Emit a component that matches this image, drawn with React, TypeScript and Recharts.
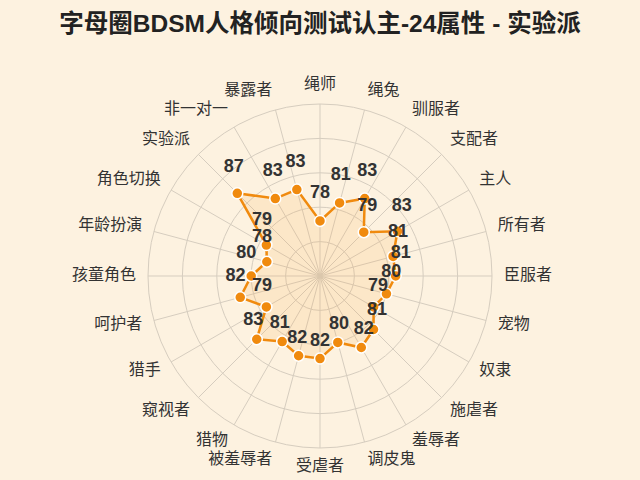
import { RadarChart, Radar, PolarGrid, PolarAngleAxis, PolarRadiusAxis } from 'recharts';

const attributes = [
  '绳师', '绳兔', '驯服者', '支配者', '主人', '所有者', '臣服者', '宠物',
  '奴隶', '施虐者', '羞辱者', '调皮鬼', '受虐者', '被羞辱者', '猎物', '窥视者',
  '猎手', '呵护者', '孩童角色', '年龄扮演', '角色切换', '实验派', '非一对一', '暴露者',
];
const scores = [
  78, 81, 83, 79, 83, 81, 81, 80,
  79, 81, 82, 80, 82, 82, 81, 83,
  79, 82, 80, 78, 79, 87, 83, 83,
];
const radiusDomain = [70, 95];
const title = '字母圈BDSM人格倾向测试认主-24属性 - 实验派';

const CX = 320;
const CY = 276;
const OUTER = 172;
const FONT = '"Liberation Sans", "Noto Sans CJK SC", sans-serif';

const data = attributes.map((name, i) => ({ name, score: scores[i] }));

// axis label: placed just outside the outer ring, anchored away from centre
const AngleTick = (props: any) => {
  const { x, y, payload } = props;
  const dx = x - CX;
  const dy = y - CY;
  const len = Math.sqrt(dx * dx + dy * dy) || 1;
  const ux = dx / len;
  const uy = dy / len;
  const r = OUTER + 12;
  const tx = CX + ux * r;
  const ty = CY + uy * r + uy * 7 - 2;
  const anchor = Math.abs(ux) < 0.05 ? 'middle' : ux > 0 ? 'start' : 'end';
  return (
    <text
      x={tx}
      y={ty}
      textAnchor={anchor}
      dominantBaseline="central"
      fontSize={16}
      fontFamily={FONT}
      fill="#333"
    >
      {payload.value}
    </text>
  );
};

// value label: above the dot, nudged a little outward along the spoke
const ValueLabel = (props: any) => {
  const { x, y, value } = props;
  const dx = x - CX;
  const dy = y - CY;
  const len = Math.sqrt(dx * dx + dy * dy) || 1;
  return (
    <text
      x={x + (dx / len) * 5}
      y={y + (dy / len) * 5 - 24}
      textAnchor="middle"
      dominantBaseline="central"
      fontSize={18}
      fontWeight="bold"
      fontFamily={FONT}
      fill="#333"
    >
      {value}
    </text>
  );
};

export default function App() {
  return (
    <div
      style={{
        position: 'absolute',
        left: 0,
        top: 0,
        width: 640,
        height: 480,
        background: '#fdf2e0',
        overflow: 'hidden',
      }}
    >
      <div
        style={{
          position: 'absolute',
          top: 4,
          left: 0,
          width: 640,
          textAlign: 'center',
          fontFamily: FONT,
          fontWeight: 'bold',
          fontSize: 24.5,
          color: '#222',
        }}
      >
        {title}
      </div>
      <RadarChart
        width={640}
        height={480}
        data={data}
        cx={CX}
        cy={CY}
        outerRadius={OUTER}
        startAngle={90}
        endAngle={-270}
      >
        <PolarGrid gridType="circle" stroke="#d6cdbf" strokeWidth={1} />
        <PolarRadiusAxis
          domain={radiusDomain}
          tickCount={6}
          tick={false}
          axisLine={false}
        />
        <PolarAngleAxis dataKey="name" tick={<AngleTick />} tickLine={false} axisLine={false} />
        <Radar
          dataKey="score"
          stroke="#f08a0e"
          strokeWidth={2.5}
          fill="#f5a742"
          fillOpacity={0.15}
          dot={{ r: 5.5, fill: '#f08a0e', stroke: '#ffffff', strokeWidth: 1.5, fillOpacity: 1 }}
          label={<ValueLabel />}
          isAnimationActive={false}
        />
      </RadarChart>
    </div>
  );
}
